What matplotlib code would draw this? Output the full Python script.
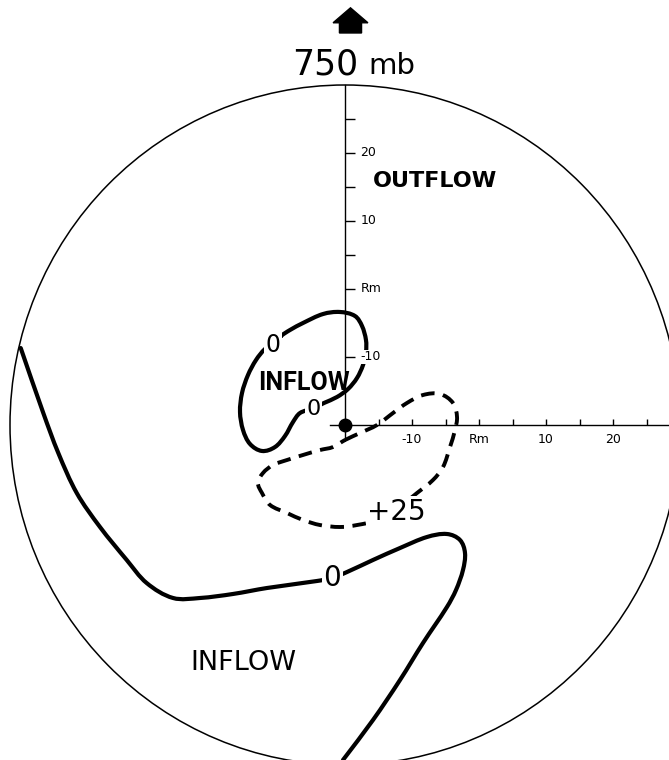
import numpy as np
import matplotlib.pyplot as plt
from matplotlib.path import Path
from matplotlib.patches import PathPatch, Ellipse, FancyArrow

# radial-flow contours at 750 mb, storm-centred coordinates (axis units, 5 per tick)
small_loop_x = [-9.55, -8.21, -6.27, -3.28, -0.75, 1.49, 2.54, 3.13, 3.13, 2.69, 1.79, 0.45,
                -1.19, -3.13, -4.9, -6.72, -7.76, -8.96, -10.45, -12.39, -14.18, -15.22,
                -15.67, -15.37, -14.48, -13.28, -11.94, -10.7]
small_loop_y = [13.09, 13.97, 15.0, 16.32, 16.62, 16.03, 14.56, 12.5, 10.74, 8.82, 6.91, 5.29,
                4.12, 3.24, 2.4, 1.76, 0.44, -1.62, -3.24, -3.82, -2.79, -0.74,
                1.91, 4.71, 7.35, 9.56, 11.18, 11.9]

plus25_x = [0.0, 2.24, 4.78, 7.16, 9.25, 11.64, 14.18, 16.12, 16.72, 16.42, 15.67, 14.63, 13.13,
            10.75, 7.91, 4.93, 1.79, -0.75, -3.73, -6.27, -8.66, -11.19, -12.39, -12.99,
            -12.24, -10.75, -8.66, -6.27, -3.73, -1.79]
plus25_y = [-2.21, -1.18, 0.0, 1.76, 3.24, 4.41, 4.56, 3.24, 1.18, -0.74, -3.24, -6.18, -8.09,
            -10.0, -12.21, -13.97, -14.71, -15.0, -14.71, -13.97, -12.94, -11.76, -10.0, -8.53,
            -7.06, -5.88, -5.15, -4.41, -3.68, -3.24]

outer_x = [-48.4, -45.03, -42.79, -40.04, -36.57, -32.58, -29.60, -25.67, -21.64,
           -16.72, -11.64, -4.18, -1.94, 0.30, 4.18, 8.21, 12.24, 15.22, 17.16, 17.91, 17.61,
           16.57, 15.22, 11.64, 8.21, 4.18, -0.30]
outer_y = [11.32, 1.76, -4.12, -10.0, -15.0, -19.85, -23.24, -25.44, -25.44,
           -24.85, -23.97, -22.94, -22.5, -21.62, -19.85, -18.09, -16.47, -16.03, -16.91, -18.82,
           -21.32, -24.26, -26.76, -32.06, -37.5, -43.38, -49.26]

# contour value labels: (x, y, text, size)
contour_labels = [(-10.7, 11.8, "0", 17), (-4.75, 2.3, "0", 16),
                  (-1.9, -22.5, "0", 20), (7.7, -12.75, "+25", 20)]

# axis ticks (axis units) and their labels
x_ticks = [5, 10, 15, 20, 25, 30, 35, 40, 45]
x_tick_labels = {10: "-10", 20: "Rm", 30: "10", 40: "20"}
y_ticks = [10, 20, 25, 30, 35, 40, 45]
y_tick_labels = {10: "-10", 20: "Rm", 30: "10", 40: "20"}
radius = 50


def smooth_path(xs, ys, closed=False):
    # smooth curve through the points: cubic Bezier segments whose handles
    # follow the neighbour direction, scaled by each segment's own length
    p = np.column_stack([xs, ys]).astype(float)
    n = len(p)
    if closed:
        d = np.roll(p, -1, axis=0) - np.roll(p, 1, axis=0)
        idx = list(range(n)) + [0]
    else:
        d = np.zeros_like(p)
        d[1:-1] = p[2:] - p[:-2]
        d[0] = p[1] - p[0]
        d[-1] = p[-1] - p[-2]
        idx = list(range(n))
    u = d / np.linalg.norm(d, axis=1)[:, None]
    verts = [p[idx[0]]]
    codes = [Path.MOVETO]
    for a, b in zip(idx[:-1], idx[1:]):
        seg = np.linalg.norm(p[b] - p[a]) / 3
        verts += [p[a] + u[a] * seg, p[b] - u[b] * seg, p[b]]
        codes += [Path.CURVE4] * 3
    return Path(verts, codes)


fig = plt.figure(figsize=(6.69, 7.60), dpi=100)
ax = fig.add_axes([0, 0, 1, 1])
ax.set_xlim(-345 / 6.7, 324 / 6.7)
ax.set_ylim(-335 / 6.8, 425 / 6.8)
ax.axis("off")

ax.add_patch(Ellipse((0, 0), 2 * radius, 2 * radius, fill=False, lw=1.1, color="black"))

# axes through the storm centre
ax.plot([-2.2, radius], [0, 0], color="black", lw=1.0)
ax.plot([0, 0], [-2.0, radius], color="black", lw=1.0)
ax.vlines(x_ticks, 0, 0.9, color="black", lw=1.0)
ax.hlines(y_ticks, 0, 1.5, color="black", lw=1.0)
for t, s in x_tick_labels.items():
    ax.text(t, -2.2, s, ha="center", va="center", fontsize=9, zorder=4)
for t, s in y_tick_labels.items():
    ax.text(2.3, t, s, ha="left", va="center", fontsize=9, zorder=4,
            bbox=dict(facecolor="white", edgecolor="none", pad=0.5))
ax.plot([0], [0], "o", color="black", ms=9, zorder=5)

ax.add_patch(PathPatch(smooth_path(small_loop_x, small_loop_y, closed=True),
                       fill=False, lw=3.0, color="black", capstyle="round", zorder=2))
ax.add_patch(PathPatch(smooth_path(plus25_x, plus25_y, closed=True),
                       fill=False, lw=2.8, color="black", linestyle=(0, (3.5, 2.2)), zorder=2))
ax.add_patch(PathPatch(smooth_path(outer_x, outer_y), fill=False, lw=3.0,
                       color="black", capstyle="round", zorder=2))

for x, y, s, size in contour_labels:
    ax.text(x, y, s, ha="center", va="center", fontsize=size, zorder=4,
            bbox=dict(facecolor="white", edgecolor="none", pad=1.0))

ax.text(4.18, 35.0, "OUTFLOW", ha="left", va="baseline", fontsize=16, fontweight="bold")
ax.text(-12.99, 5.15, "INFLOW", ha="left", va="baseline", fontsize=18,
        fontweight="bold", family="Roboto", zorder=3)
ax.text(-23.13, -36.03, "INFLOW", ha="left", va="baseline", fontsize=19.5)

# level title with the direction arrow above it
ax.text(-2.99, 51.6, "750", ha="center", va="baseline", fontsize=25)
ax.text(3.43, 51.6, "mb", ha="left", va="baseline", fontsize=21)
ax.add_patch(FancyArrow(0.82, 57.65, 0, 1.5, width=3.3, head_width=5.2,
                        head_length=2.2, color="black", length_includes_head=False))

plt.savefig("out.png", dpi=100)
